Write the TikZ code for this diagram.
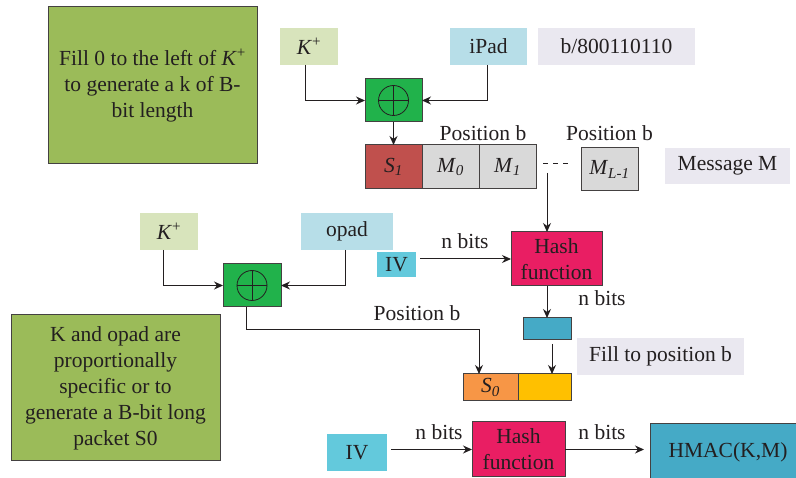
\documentclass[tikz,border=0pt]{standalone}
\usepackage{fontspec}
\setmainfont{Liberation Serif}
\usetikzlibrary{arrows.meta}

\definecolor{ink}{HTML}{231F20}
\definecolor{notegreen}{HTML}{9BBB59}
\definecolor{keygreen}{HTML}{D8E4BC}
\definecolor{padblue}{HTML}{B7DEE8}
\definecolor{lavender}{HTML}{EAE8F0}
\definecolor{xorgreen}{HTML}{21B24B}
\definecolor{sred}{HTML}{C0504D}
\definecolor{mgrey}{HTML}{D9D9D9}
\definecolor{hashpink}{HTML}{E91E63}
\definecolor{ivcyan}{HTML}{63C9DC}
\definecolor{aqua}{HTML}{45AAC6}
\definecolor{sorange}{HTML}{F79646}
\definecolor{syellow}{HTML}{FFC000}

\tikzset{
  base/.style={rectangle, inner sep=0pt, outer sep=0pt, text=ink, align=center,
    font=\fontsize{21.5}{26}\selectfont},
  plain/.style={base, fill=#1},
  framed/.style={base, fill=#1, draw=ink!85, line width=1pt},
  xorbox/.style={framed=xorgreen,
    path picture={
      \draw[ink, line width=0.8pt] (path picture bounding box.center) circle[radius=15pt];
      \draw[ink, line width=0.8pt] ([xshift=-15pt]path picture bounding box.center) -- ([xshift=15pt]path picture bounding box.center);
      \draw[ink, line width=0.8pt] ([yshift=-15pt]path picture bounding box.center) -- ([yshift=15pt]path picture bounding box.center);
    }},
  label/.style={base},
  arr/.style={draw=ink, line width=1pt, -{Stealth[length=9pt,width=8pt]}},
}

\newcommand{\ital}[2]{\textit{#1}\textsubscript{\textit{#2}}}

\begin{document}
\begin{tikzpicture}[x=1pt,y=-1pt]
\useasboundingbox[fill=white] (0,0) rectangle (796,478);

% explanatory notes
\node[framed=notegreen, minimum width=209pt, minimum height=157pt] (note1) at (152.5,85.5)
  {Fill 0 to the left of \textit{K}\textsuperscript{+}\\to generate a k of B-\\bit length};
\node[framed=notegreen, minimum width=209pt, minimum height=146pt] (note2) at (115.5,388)
  {K and opad are\\proportionally\\specific or to\\generate a B-bit long\\packet S0};

% inner key XOR ipad
\node[plain=keygreen, minimum width=58pt, minimum height=37pt] (kp1) at (309,46.5) {\textit{K}\textsuperscript{+}};
\node[plain=padblue, minimum width=77pt, minimum height=37pt] (ipad) at (488.5,46.5) {iPad};
\node[plain=lavender, minimum width=157pt, minimum height=37pt] (bval) at (616.5,46.5) {b/800110110};
\node[xorbox, minimum width=57pt, minimum height=43pt] (xor1) at (393.5,100.5) {};

% first block sequence
\node[framed=sred, minimum width=57pt, minimum height=44pt] (s1) at (393.5,167) {\ital{S}{1}};
\node[framed=mgrey, minimum width=57pt, minimum height=44pt] (m0) at (450.5,167) {\ital{M}{0}};
\node[framed=mgrey, minimum width=57pt, minimum height=44pt] (m1) at (507.5,167) {\ital{M}{1}};
\node[framed=mgrey, minimum width=57pt, minimum height=43pt] (ml) at (609.5,169.5) {\ital{M}{L-1}};
\node[plain=lavender, minimum width=125pt, minimum height=36pt] (msg) at (727.5,166) {Message M};
\node[label] (pos1) at (483,133) {Position b};
\node[label] (pos2) at (609.5,133) {Position b};
\coordinate (d1) at (543,164);
\coordinate (d2) at (570,164);
\draw[ink, line width=1pt, dash pattern=on 5pt off 5pt] (d1) -- (d2);
\coordinate (mtap) at (547,173);

% inner hash
\node[framed=hashpink, minimum width=91pt, minimum height=54pt] (hash1) at (556.5,259) {Hash\\function};
\node[plain=ivcyan, minimum width=39pt, minimum height=25pt] (iv1) at (396.5,264.5) {IV};
\node[label] (nb1) at (465,241) {n bits};
\node[label] (nb2) at (602,298) {n bits};
\node[framed=aqua, minimum width=48pt, minimum height=22pt] (teal) at (547,329) {};
\node[plain=lavender, minimum width=167pt, minimum height=37pt] (fill) at (660.5,356.5) {Fill to position b};
\node[framed=sorange, minimum width=55pt, minimum height=27pt] (s0) at (490.5,387.5) {\ital{S}{0}};
\node[framed=syellow, minimum width=53pt, minimum height=27pt] (fy) at (544.5,387.5) {};

% outer key XOR opad
\node[plain=keygreen, minimum width=58pt, minimum height=37pt] (kp2) at (169,231.5) {\textit{K}\textsuperscript{+}};
\node[plain=padblue, minimum width=92pt, minimum height=37pt] (opad) at (347,231.5) {opad};
\node[xorbox, minimum width=58pt, minimum height=43pt] (xor2) at (252,285.5) {};
\node[label] (pos3) at (417,313) {Position b};
\coordinate (c2) at (479,330);

% outer hash
\node[plain=ivcyan, minimum width=60pt, minimum height=37pt] (iv2) at (357,452.5) {IV};
\node[framed=hashpink, minimum width=93pt, minimum height=55pt] (hash2) at (518.5,449.5) {Hash\\function};
\node[framed=aqua, minimum width=156pt, minimum height=56pt, text width=150pt] (hmac) at (728,452) {HMAC(K,M)};
\node[label] (nb3) at (439,432) {n bits};
\node[label] (nb4) at (602,432) {n bits};

% connectors
\draw[arr] ([xshift=-4pt]kp1.south) |- (xor1.west);
\draw[arr] ([xshift=-1pt]ipad.south) |- (xor1.east);
\draw[arr] (xor1.south) -- (s1.north);
\draw[arr] (mtap) -- (mtap |- hash1.north);
\draw[arr, shorten <=4pt] (iv1.east |- hash1.west) -- (hash1.west);
\draw[arr] (teal.north |- hash1.south) -- (teal.north);
\coordinate (tq) at ([xshift=5pt,yshift=-4pt]teal.south);
\draw[arr] (tq) -- (tq |- fy.north);
\draw[arr] ([xshift=-6pt]kp2.south) |- (xor2.west);
\draw[arr] ([xshift=-2pt]opad.south) |- (xor2.east);
\draw[arr] ([xshift=-6pt]xor2.south) |- (c2) -- (c2 |- s0.north);
\draw[arr, shorten <=4pt] (iv2.east |- hash2.west) -- (hash2.west);
\draw[arr, shorten >=6pt] (hash2.east) -- (hash2.east -| hmac.west);
\end{tikzpicture}
\end{document}
